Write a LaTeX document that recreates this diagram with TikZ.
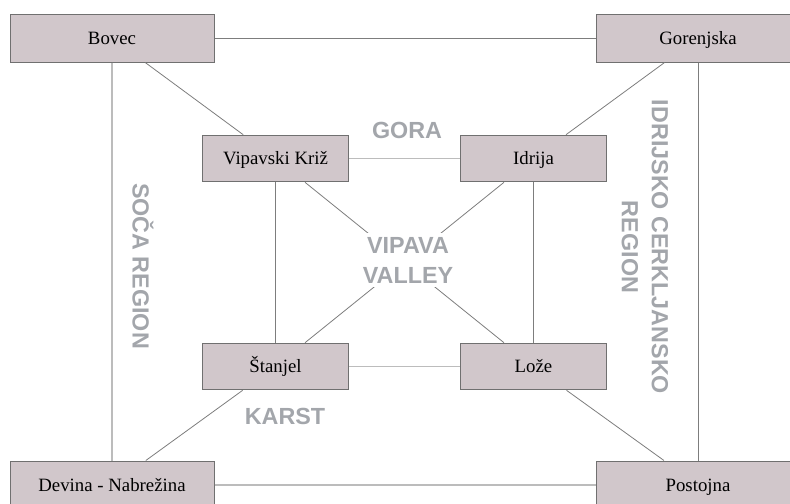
\documentclass[tikz,border=0pt]{standalone}
\usepackage{fontspec}
\setmainfont{Liberation Serif}
\newfontfamily\regionfont{Liberation Sans}
\usepackage{xcolor}
\definecolor{boxfill}{RGB}{209,199,203}
\definecolor{boxline}{RGB}{112,112,112}
\definecolor{regiongray}{RGB}{163,166,171}
\definecolor{linkgray}{RGB}{125,125,125}
\definecolor{palegray}{RGB}{188,188,188}

\begin{document}
\begin{tikzpicture}[x=0.75pt, y=-0.75pt,
  town/.style={draw=boxline, fill=boxfill, line width=0.75pt, inner sep=0pt,
    minimum width=110pt, minimum height=35pt, text height=10.5pt, text depth=1.2pt,
    font=\fontsize{14.1}{16}\selectfont},
  bigtown/.style={town, minimum width=153pt, minimum height=36pt},
  link/.style={linkgray, line width=0.6pt},
  palelink/.style={palegray, line width=0.9pt},
  region/.style={text=regiongray, align=center, inner sep=3pt,
    font=\regionfont\bfseries\fontsize{17.5}{22.5}\selectfont}]
  \useasboundingbox (0,0) rectangle (790,504);

  % towns
  \node[bigtown] (bovec) at (112,38) {Bovec};
  \node[bigtown] (gorenjska) at (698,38) {Gorenjska};
  \node[bigtown] (devina) at (112,485) {Devina - Nabrežina};
  \node[bigtown] (postojna) at (698,485) {Postojna};
  \node[town] (kriz) at (275.5,158.5) {Vipavski Križ};
  \node[town] (idrija) at (533.5,158.5) {Idrija};
  \node[town] (stanjel) at (275.5,366.5) {Štanjel};
  \node[town] (loze) at (533.5,366.5) {Lože};

  % outer frame
  \draw[link] (bovec) -- (gorenjska);
  \draw[palelink] (bovec) -- (devina);
  \draw[palelink] (devina) -- (postojna);
  \draw[link] (gorenjska) -- (postojna);
  % inner frame
  \draw[palelink] (kriz) -- (idrija);
  \draw[palelink] (stanjel) -- (loze);
  \draw[link] (kriz) -- (stanjel);
  \draw[link] (idrija) -- (loze);
  % diagonals
  \draw[link] (bovec) -- (kriz);
  \draw[link] (gorenjska) -- (idrija);
  \draw[link] (devina) -- (stanjel);
  \draw[link] (postojna) -- (loze);
  \draw[link] (kriz) -- (loze);
  \draw[link] (idrija) -- (stanjel);

  % regions
  \node[region] (gora) at (407,130) {GORA};
  \node[region, fill=white] (valley) at (408,260) {VIPAVA\\VALLEY};
  \node[region] (karst) at (285,416) {KARST};
  \node[region, rotate=-90] (soca) at (143,266) {SOČA REGION};
  \node[region, rotate=-90] (idrijsko) at (645,247) {IDRIJSKO CERKLJANSKO\\REGION};
\end{tikzpicture}
\end{document}
